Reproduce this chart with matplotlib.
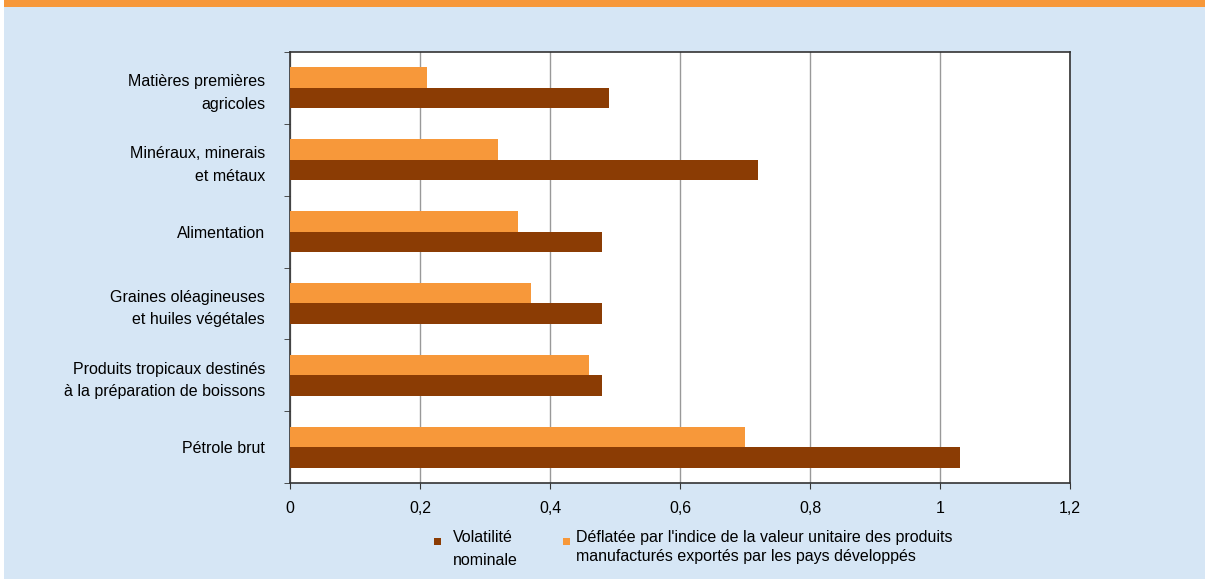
import matplotlib.pyplot as plt
import numpy as np
from matplotlib.patches import Rectangle

plt.rcParams['font.family'] = ['Liberation Sans', 'DejaVu Sans']

categories = ["Matières premières\nagricoles",
              "Minéraux, minerais\net métaux",
              "Alimentation",
              "Graines oléagineuses\net huiles végétales",
              "Produits tropicaux destinés\nà la préparation de boissons",
              "Pétrole brut"]
nominale = [0.49, 0.72, 0.48, 0.48, 0.48, 1.03]
deflatee = [0.21, 0.32, 0.35, 0.37, 0.46, 0.70]
xticks = [0, 0.2, 0.4, 0.6, 0.8, 1.0, 1.2]
xlabels = ["0", "0,2", "0,4", "0,6", "0,8", "1", "1,2"]

ORANGE = "#F7983A"
BRUN = "#8B3C04"
FOND = "#D6E6F5"

fig = plt.figure(figsize=(12.05, 5.79), dpi=100)
fig.patch.set_facecolor("white")
# fond bleu clair + bandeau orange du titre
fig.add_artist(Rectangle((4 / 1205, 0), 1 - 4 / 1205, 1, transform=fig.transFigure,
                         facecolor=FOND, edgecolor="none", zorder=-2))
fig.add_artist(Rectangle((4 / 1205, 1 - 7 / 579), 1, 7 / 579, transform=fig.transFigure,
                         facecolor=ORANGE, edgecolor="none", zorder=-1))

ax = fig.add_axes([290 / 1205, 1 - 483 / 579, 780 / 1205, 431 / 579])
ax.set_facecolor("white")

y = np.arange(len(categories))
h = 0.285
ax.barh(y - h / 2, deflatee, height=h, color=ORANGE, zorder=3)
ax.barh(y + h / 2, nominale, height=h, color=BRUN, zorder=3)

ax.set_ylim(len(categories) - 0.5, -0.5)
ax.set_xlim(0, 1.2)
ax.set_xticks(xticks)
ax.set_xticklabels(xlabels, fontsize=11.5)
ax.set_yticks(y)
ax.set_yticklabels(categories, fontsize=11.5, ha="right", linespacing=1.62)
ax.tick_params(axis="y", length=0, pad=18)
ax.set_yticks(np.arange(-0.5, len(categories)), minor=True)
ax.tick_params(axis="y", which="minor", length=4, color="#333333")
ax.tick_params(axis="x", length=4, color="#333333", pad=9)
ax.grid(axis="x", color="#999999", linewidth=1, zorder=0)
for s in ax.spines.values():
    s.set_color("#333333")
    s.set_linewidth(1.2)

# légende
fig.add_artist(Rectangle((434 / 1205, 1 - 545 / 579), 7 / 1205, 7 / 579,
                         transform=fig.transFigure, facecolor=BRUN, edgecolor="none"))
fig.text(453 / 1205, 1 - 549 / 579, "Volatilité\nnominale", fontsize=11.5,
         va="center", ha="left", linespacing=1.62)
fig.add_artist(Rectangle((563 / 1205, 1 - 545 / 579), 7 / 1205, 7 / 579,
                         transform=fig.transFigure, facecolor=ORANGE, edgecolor="none"))
fig.text(576 / 1205, 1 - 547 / 579,
         "Déflatée par l'indice de la valeur unitaire des produits\nmanufacturés exportés par les pays développés",
         fontsize=11.5, va="center", ha="left", linespacing=1.3)

fig.savefig("out.png", dpi=100)
